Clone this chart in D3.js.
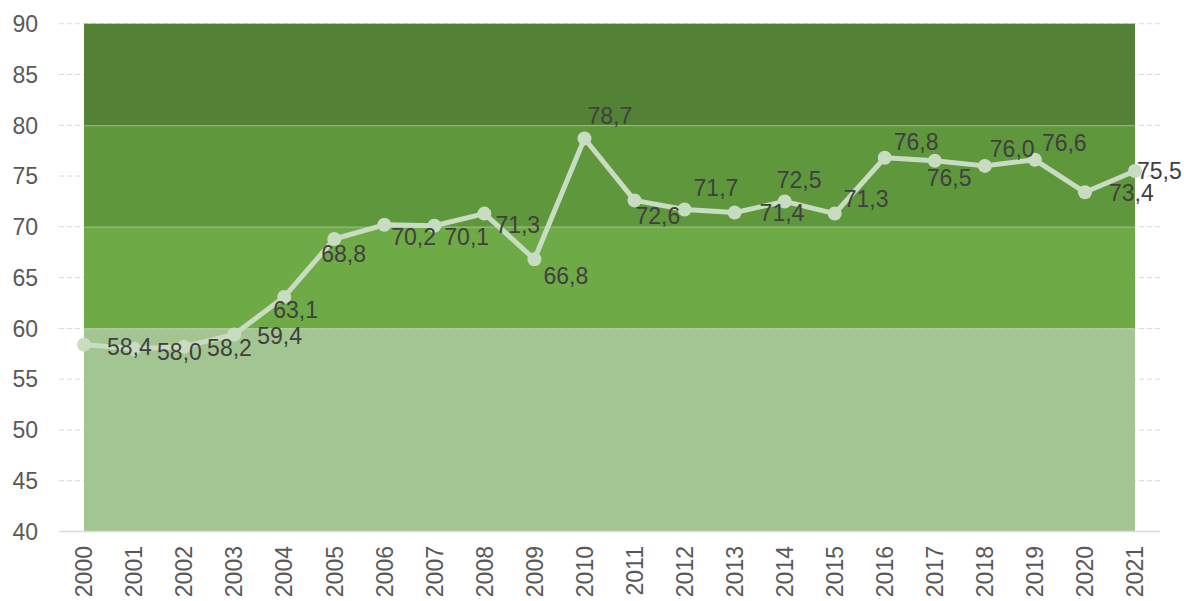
<!DOCTYPE html>
<html>
<head>
<meta charset="utf-8">
<script src="https://cdn.jsdelivr.net/npm/d3@7"></script>
<style>
  body { margin: 0; background: #fff; }
  text { font-family: "Liberation Sans", Arial, sans-serif; }
</style>
</head>
<body>
<div id="vis"></div>
<script>
var years = ["2000","2001","2002","2003","2004","2005","2006","2007","2008","2009","2010",
             "2011","2012","2013","2014","2015","2016","2017","2018","2019","2020","2021"];
var values = [58.4, 58.0, 58.2, 59.4, 63.1, 68.8, 70.2, 70.1, 71.3, 66.8, 78.7,
              72.6, 71.7, 71.4, 72.5, 71.3, 76.8, 76.5, 76.0, 76.6, 73.4, 75.5];
var yTicks = [40, 45, 50, 55, 60, 65, 70, 75, 80, 85, 90];
var bands = [
  {from: 40, to: 60, color: "#a2c591"},
  {from: 60, to: 70, color: "#6eaa45"},
  {from: 70, to: 80, color: "#5f973c"},
  {from: 80, to: 90, color: "#538135"}
];
// label placement (left x, baseline) relative to each point
var labelOffsets = [[23,10],[23,11],[23,9],[23,10],[-11,21],[-13,23],[7,20],[10,19],[11,19],[9,25],[3,-14],
                    [1,24],[9,-14],[25,8],[-8,-13],[9,-7],[9,-8],[-8,25],[5,-9],[7,-9],[24,9],[2,8]];

var width = 1184, height = 601;
var svg = d3.select("#vis").append("svg").attr("width", width).attr("height", height);

var x = d3.scaleBand().domain(years).range([59, 1160]).padding(0);
var y = d3.scaleLinear().domain([40, 90]).range([531.5, 23.7]);
var cx = function(d){ return x(d) + x.bandwidth() / 2; };

// dashed grid
svg.selectAll(".grid").data(yTicks).enter().append("line")
  .attr("class", "grid")
  .attr("x1", 59).attr("x2", 1160)
  .attr("y1", function(d){ return y(d); }).attr("y2", function(d){ return y(d); })
  .attr("stroke", "#d9d9d9").attr("stroke-width", 1).attr("stroke-dasharray", "5,3");

// coloured bands
svg.selectAll(".band").data(bands).enter().append("rect")
  .attr("class", "band")
  .attr("x", cx(years[0]))
  .attr("width", cx(years[years.length - 1]) - cx(years[0]))
  .attr("y", function(d){ return y(d.to); })
  .attr("height", function(d){ return y(d.from) - y(d.to); })
  .attr("fill", function(d){ return d.color; });

svg.selectAll(".bandEdge").data(bands.slice(1)).enter().append("line")
  .attr("x1", cx(years[0])).attr("x2", cx(years[years.length - 1]))
  .attr("y1", function(d){ return y(d.from) + 0.5; }).attr("y2", function(d){ return y(d.from) + 0.5; })
  .attr("stroke", "rgba(255,255,255,0.25)").attr("stroke-width", 1);

// axis line
svg.append("line")
  .attr("x1", 59).attr("x2", 1160).attr("y1", y(40)).attr("y2", y(40))
  .attr("stroke", "#d9d9d9").attr("stroke-width", 1.5);

// y labels
svg.selectAll(".ylab").data(yTicks).enter().append("text")
  .attr("x", 38).attr("y", function(d){ return y(d); }).attr("dy", "0.36em")
  .attr("text-anchor", "end").attr("font-size", 23).attr("fill", "#595959")
  .text(function(d){ return d; });

// x labels
svg.selectAll(".xlab").data(years).enter().append("text")
  .attr("transform", function(d){ return "translate(" + cx(d) + ",546) rotate(-90)"; })
  .attr("dy", "0.36em").attr("text-anchor", "end")
  .attr("font-size", 23).attr("fill", "#595959")
  .text(function(d){ return d; });

var pts = years.map(function(d, i){ return {year: d, value: values[i], off: labelOffsets[i]}; });

var line = d3.line()
  .x(function(d){ return cx(d.year); })
  .y(function(d){ return y(d.value); });

svg.append("path").datum(pts)
  .attr("d", line).attr("fill", "none")
  .attr("stroke", "#c8dcc2").attr("stroke-width", 5).attr("stroke-linejoin", "round");

svg.selectAll(".dot").data(pts).enter().append("circle")
  .attr("cx", function(d){ return cx(d.year); })
  .attr("cy", function(d){ return y(d.value); })
  .attr("r", 7).attr("fill", "#c8dcc2");

svg.selectAll(".vlab").data(pts).enter().append("text")
  .attr("x", function(d){ return cx(d.year) + d.off[0]; })
  .attr("y", function(d){ return y(d.value) + d.off[1]; })
  .attr("font-size", 23).attr("fill", "#404040")
  .text(function(d){ return d3.format(".1f")(d.value).replace(".", ","); });
</script>
</body>
</html>
